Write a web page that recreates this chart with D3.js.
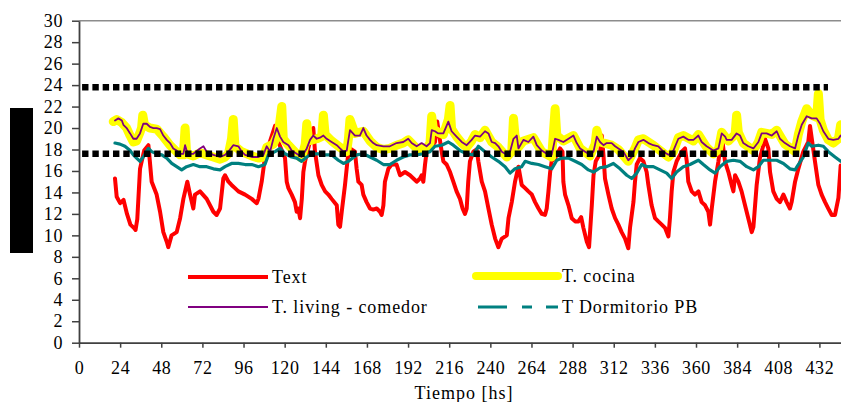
<!DOCTYPE html>
<html>
<head>
<meta charset="utf-8">
<script src="https://cdn.jsdelivr.net/npm/d3@7"></script>
<style>
  body { margin: 0; background: #fff; }
  svg { display: block; }
  text { font-family: 'Liberation Serif', 'Times New Roman', Times, serif; }
</style>
</head>
<body>
<svg id="chart"></svg>
<script>
// Datos (hora, temperatura)

const xTicks = [0, 24, 48, 72, 96, 120, 144, 168, 192, 216, 240, 264, 288, 312, 336, 360, 384, 408, 432];
const yTicks = [0, 2, 4, 6, 8, 10, 12, 14, 16, 18, 20, 22, 24, 26, 28, 30];

// Text (exterior)
const textHoras = [21, 22, 24, 26, 28, 30, 32, 33, 34, 35.6, 38, 40.5, 42.4, 45.3, 47.3, 49.2, 51.2, 52.1, 54, 57, 59, 60.9, 63.2, 64.8, 66.7, 67.7, 70.6, 74.5, 78.4, 80.3, 82.3, 84.2,
  85.2, 87.2, 89, 91, 93, 96.9, 100.8, 103.7, 104.7, 106.6, 108.2, 109.5, 114.4, 116.3, 120.2, 121.2, 122.2, 124.1, 126, 127, 128, 129, 130, 130.9, 131.9, 136.7, 137.7, 139.7,
  141.6, 143.6, 145.5, 147.4, 150.4, 151.3, 152.3, 153.3, 155.2, 156.8, 158.1, 161, 162, 163, 164.9, 165.9, 167.8, 169.8, 171.7, 173.7, 175.6, 176.6, 177.6, 178.5, 180.5,
  182.4, 185.3, 187.3, 190.2, 193.1, 195.1, 197, 199, 199.9, 200.9, 201.9, 202.8, 204.8, 207.7, 209, 210.2, 211.6, 212.6, 214.5, 216.5, 218.4, 220.3, 222.3, 223.8, 225.2,
  226.2, 227.1, 228.1, 230.1, 232, 233, 235, 236.9, 238.9, 240.8, 242.8, 244.7, 246.7, 249.6, 250.6, 252.5, 254.4, 256.4, 258.3, 260.3, 262.2, 264.2, 266.1, 268.1, 270,
  271.9, 272.9, 273.9, 274.9, 275.8, 277.8, 280.7, 282.1, 282.6, 283.6, 285.6, 287.5, 289.5, 291.4, 293, 294.3, 296.3, 297.6, 299.2, 300.2, 301.5, 304, 305, 306, 306.9,
  308.9, 310.8, 312.8, 314.7, 316.6, 318.6, 320.5, 321.5, 323.5, 324.4, 325.4, 327.3, 329.3, 331.2, 332.2, 334.1, 336.1, 338, 340, 341.9, 343.9, 344.8, 345.8, 346.8,
  348.7, 351.7, 353.6, 354.6, 355.5, 357.5, 359.4, 361.4, 363.3, 365.3, 367.2, 368.2, 369.2, 371.1, 373.1, 375, 376.9, 378.9, 380.8, 381.8, 382.8, 384.7, 386.6, 388.6,
  390.5, 392.5, 393.5, 395.4, 397.3, 400.3, 402.2, 403.2, 405.1, 407.1, 409, 411, 412.9, 414.8, 415.8, 417.8, 419.7, 422.6, 425.5, 426.5, 429.4, 431.4, 433.3, 435.3,
  437.2, 439.2, 441.1, 443.1, 444.4];
const textTemp = [15.3, 13.6, 13.0, 13.3, 12.0, 11.0, 10.7, 10.5, 11.5, 16.2, 17.9, 18.4, 15.0, 13.8, 12.2, 10.3, 9.4, 8.9, 10.0, 10.3, 11.6, 13.4, 15.0, 13.8, 12.5, 13.8, 14.1, 13.4, 12.2, 11.9, 12.5, 15.3,
  15.6, 15.0, 14.7, 14.4, 14.1, 13.8, 13.4, 13.0, 13.4, 15.0, 16.9, 17.8, 20.2, 18.7, 17.2, 15.0, 14.4, 13.8, 13.1, 12.2, 12.5, 11.6, 13.4, 15.9, 16.9, 20.0, 17.8, 15.6,
  14.7, 14.1, 13.8, 13.4, 12.8, 11.0, 10.8, 12.2, 14.7, 17.2, 18.1, 17.8, 16.2, 15.0, 14.7, 13.8, 13.1, 12.5, 12.4, 12.5, 12.2, 11.9, 12.8, 15.0, 16.2,
  16.6, 16.6, 15.6, 15.9, 15.6, 15.3, 15.0, 15.3, 15.6, 15.0, 16.6, 17.8, 18.1, 18.7, 20.6, 19.3, 17.8, 16.9, 16.6, 15.9, 15.0, 14.1, 13.4, 12.5, 12.0,
  12.5, 15.0, 16.9, 17.8, 18.0, 16.9, 15.0, 14.1, 12.5, 11.0, 9.7, 8.9, 9.7, 10.0, 11.6, 13.1, 15.0, 16.4, 14.7, 14.4, 14.1, 13.8, 13.1, 12.5, 12.0,
  11.9, 12.5, 14.1, 15.9, 16.9, 17.2, 18.1, 17.8, 15.0, 13.8, 12.8, 11.6, 11.3, 11.3, 11.7, 10.7, 9.4, 8.9, 12.8, 15.6, 16.9, 17.6, 19.3, 17.5, 15.3,
  13.8, 12.5, 11.6, 11.0, 10.3, 9.7, 8.8, 10.7, 13.1, 15.0, 16.6, 17.2, 16.9, 15.9, 14.7, 12.8, 11.6, 11.3, 11.0, 10.7, 9.9, 11.6, 14.1, 15.9,
  16.9, 17.8, 18.1, 16.9, 15.0, 14.1, 13.8, 14.1, 13.1, 12.8, 12.2, 11.0, 12.5, 15.0, 16.9, 19.3, 16.9, 15.9, 14.7, 14.1, 15.6, 15.0, 14.1, 12.8,
  11.6, 10.3, 10.8, 14.7, 17.2, 19.0, 18.1, 15.9, 14.1, 13.4, 13.1, 13.8, 13.1, 12.5, 13.1, 15.0, 16.2, 17.8, 18.7, 20.2, 16.9, 14.7, 13.8, 13.1,
  12.5, 11.9, 11.9, 13.5, 16.5];

// T. cocina
const cocinaHoras = [20, 22, 25, 27.8, 29.8, 31.7, 33.6, 35.6, 36.5, 37.2, 38.2, 41.4, 45.3, 49.2, 53.1, 57, 59, 60.9, 61.9, 62.8, 66.7, 70.6, 74.5, 78.4, 82.3, 85.2, 87.2,
  89, 90, 91, 94.9, 100.8, 104.7, 107.6, 109.5, 113.4, 116.3, 118.3, 119.2, 122.2, 127, 129.9, 132, 132.9, 134, 138.7, 141.6, 142.6, 143.6, 147.4, 152.3, 156.2, 157.2,
  158.1, 161, 165.9, 169.8, 173.7, 177.6, 181.4, 185.3, 189.2, 192.1, 197, 202.8, 204.8, 205.8, 206.8, 209.6, 212.6, 215.5, 216.5, 217.4, 220.3, 223.3, 226.2, 229.1,
  231.1, 234, 236.9, 240.8, 244.7, 249.6, 252.5, 253.5, 254.4, 256.4, 259.3, 265.1, 270, 275.8, 277.8, 278.8, 282.6, 288.5, 292.4, 298.2, 301.1, 302.1, 304, 310.8,
  314.7, 320.5, 324.4, 326.4, 329.3, 335.1, 343.9, 346.8, 349.7, 352.6, 358.5, 361.4, 366.2, 370.1, 373.1, 375, 378.9, 382.8, 383.7, 384.7, 387.6, 393.5, 396.4,
  398.3, 404.2, 407.1, 411.9, 417.8, 419.7, 421.7, 424.6, 427.5, 430.4, 431.4, 432.4, 434.3, 437.2, 440.1, 443.1, 444.4];
const cocinaTemp = [20.6, 20.8, 20.5, 20.0, 19.3, 18.7, 18.8, 19.6, 20.0, 21.2, 20.3, 20.0, 19.9, 19.2, 18.4, 17.8, 17.5, 17.5, 20.0, 17.6, 17.4, 17.7, 17.5, 17.3, 17.1, 17.3, 17.6,
  19.0, 20.8, 18.3, 17.8, 17.4, 17.2, 17.3, 18.2, 18.5, 19.5, 22.0, 19.0, 18.4, 17.6, 17.2, 18.5, 20.4, 18.8, 19.0, 19.2, 21.2, 19.4, 18.8, 18.2, 17.8, 19.0,
  20.8, 19.5, 19.7, 18.8, 18.2, 18.0, 18.1, 18.4, 18.6, 18.9, 18.1, 18.1, 18.6, 21.1, 19.9, 19.6, 19.4, 20.8, 22.1, 19.9, 19.2, 18.6, 18.2, 18.8,
  19.4, 19.1, 19.8, 18.7, 18.2, 17.3, 17.8, 20.9, 19.3, 18.2, 18.8, 19.1, 17.8, 17.3, 21.8, 19.3, 18.8, 19.3, 18.1, 17.4, 18.5, 19.8, 18.7, 18.4,
  18.0, 16.9, 18.1, 18.9, 19.0, 18.4, 17.3, 17.8, 19.1, 19.3, 18.8, 19.4, 18.2, 17.6, 18.0, 19.6, 18.8, 19.4, 21.2, 19.6, 18.6, 17.9, 18.7,
  19.6, 19.4, 19.8, 18.5, 17.8, 19.4, 20.6, 21.8, 21.2, 21.0, 23.2, 20.8, 19.8, 18.9, 18.6, 19.0, 20.3];

// T. living - comedor
const livingHoras = [21, 23, 25, 25.9, 27.8, 29.8, 31.7, 33.6, 35.6, 37.5, 39.5, 41.4, 43.4, 45.3, 47.3, 49.2, 51.2, 53.1, 55, 57, 59, 60.9, 61.9, 62.8, 64.8, 66.7, 70.6, 72.6,
  74.5, 78.4, 82.3, 85.2, 87.2, 90, 93, 94.9, 96.9, 100.8, 104.7, 107.6, 109.5, 111.5, 113.4, 115.4, 117.3, 119.2, 122.2, 124.1, 127, 129.9, 132.9, 134.8, 136.7,
  138.7, 140.6, 142.6, 144.5, 147.4, 150.4, 152.3, 154.3, 156.2, 158.1, 161, 163.9, 165.9, 167.8, 169.8, 171.7, 173.7, 177.6, 181.4, 185.3, 189.2, 192.1, 194.1,
  197, 199.9, 202.8, 204.8, 205.8, 207.7, 209.6, 212.6, 215.5, 217.4, 220.3, 223.3, 226.2, 229.1, 231.1, 234, 236.9, 238.9, 240.8, 242.8, 244.7, 246.7, 249.6,
  251.5, 253.5, 255.4, 256.4, 259.3, 262.2, 265.1, 267.1, 270, 272.9, 275.8, 277.8, 279.7, 282.6, 285.6, 288.5, 290.4, 292.4, 295.3, 298.2, 300.2, 302.1, 304,
  306, 307.9, 310.8, 312.8, 314.7, 317.6, 320.5, 322.5, 324.4, 326.4, 329.3, 332.2, 335.1, 338, 341, 343.9, 346.8, 349.7, 352.6, 355.5, 358.5, 361.4, 363.3,
  366.2, 370.1, 373.1, 375, 377, 377.9, 380.8, 383.7, 385.7, 387.6, 390.5, 393.5, 396.4, 398.3, 401.2, 404.2, 407.1, 409, 411.9, 414.8, 417.8, 419.7, 421.7,
  424.6, 427.5, 430.4, 432.4, 434.3, 437.2, 440.1, 443.1, 444.4];
const livingTemp = [20.7, 20.9, 20.7, 20.3, 20.0, 19.5, 19.0, 19.0, 19.5, 20.4, 20.4, 20.1, 20.0, 20.0, 19.9, 19.3, 18.9, 18.6, 18.1, 17.9, 17.6, 17.6, 18.4, 17.9, 17.6, 17.6, 18.1, 18.3,
  17.8, 17.5, 17.3, 17.5, 17.8, 18.4, 18.3, 17.8, 17.5, 17.3, 17.3, 17.5, 18.3, 17.8, 19.0, 20.0, 19.2, 18.7, 18.4, 17.9, 17.6, 17.3, 18.1, 18.9, 19.3,
  19.0, 19.1, 19.3, 19.0, 18.7, 18.4, 18.1, 17.8, 17.9, 19.8, 19.3, 19.3, 20.0, 19.3, 18.9, 18.6, 18.4, 18.3, 18.3, 18.6, 18.7, 19.0, 18.6,
  18.3, 18.6, 18.3, 18.6, 19.8, 19.7, 19.5, 19.5, 20.6, 19.7, 19.2, 18.7, 18.4, 18.9, 19.3, 19.2, 19.7, 19.5, 18.7, 18.6, 18.3, 17.8, 17.5,
  17.8, 19.0, 19.3, 18.1, 18.9, 18.7, 19.2, 18.4, 17.9, 17.6, 17.5, 19.0, 18.9, 18.7, 19.0, 19.3, 18.6, 18.1, 17.8, 17.5, 17.8, 19.2, 18.7,
  18.4, 18.6, 18.6, 18.3, 18.1, 17.8, 17.0, 17.3, 18.1, 18.7, 18.9, 18.6, 18.4, 18.3, 17.8, 17.5, 17.9, 19.0, 19.2, 18.9, 18.9, 19.3, 18.7,
  18.3, 17.9, 18.1, 19.5, 19.2, 18.9, 18.9, 19.5, 19.3, 18.6, 18.3, 18.1, 18.7, 19.5, 19.5, 19.3, 19.7, 19.0, 18.6, 18.3, 18.1, 19.3, 20.3,
  21.1, 20.9, 20.9, 20.4, 19.7, 19.0, 18.9, 19.0, 19.3];

// T Dormitorio PB
const dormHoras = [21, 23.9, 26.8, 29.8, 31.7, 33.6, 35.6, 37.5, 40.5, 42.4, 45.3, 48.3, 51.2, 54.1, 57, 59.9, 62.8, 66.7, 70.6, 74.5, 78.4, 82.3, 85.2, 89, 93, 96.9, 100.8,
  104.7, 108.5, 110.5, 114.4, 117.3, 120.2, 124.1, 127, 129.9, 132.9, 135.8, 139.7, 143.6, 147.4, 151.3, 154.3, 157.2, 162, 165.9, 169.8, 173.7, 177.6, 181.4, 185.3,
  189.2, 193.1, 197, 200.9, 204.8, 207.7, 211.6, 215.5, 218.4, 222.3, 226.2, 230, 233, 236.9, 240.8, 244.7, 248.6, 251.5, 254.4, 258.3, 260.3, 264.2, 268.1, 271.9,
  275.8, 278.8, 281.7, 285.6, 289.5, 293.3, 297.2, 300.2, 304, 307.9, 311.8, 315.7, 319.6, 322.5, 325.4, 328.3, 331.2, 335.1, 339, 342.9, 345.8, 348.7, 352.6, 356.5,
  361.4, 364.3, 368.2, 371.1, 374, 377.9, 381.8, 385.7, 389.6, 393.5, 396.4, 399.3, 403.2, 407.1, 411, 414.8, 417.8, 419.7, 422.6, 425.5, 427.5, 431.4, 434.3,
  437.2, 441.1, 444.4];
const dormTemp = [18.6, 18.5, 18.3, 17.9, 17.5, 17.2, 16.9, 17.3, 18.1, 17.8, 17.6, 17.5, 17.2, 16.7, 16.4, 16.1, 16.4, 16.6, 16.4, 16.4, 16.2, 16.1, 16.4, 16.7, 16.7, 16.6, 16.6,
  16.4, 16.6, 17.5, 17.8, 18.1, 17.6, 17.3, 17.2, 16.9, 17.3, 17.6, 17.6, 17.5, 17.5, 17.0, 16.7, 16.9, 17.5, 17.6, 17.3, 17.0, 16.6, 16.6, 17.0,
  17.3, 17.5, 17.5, 17.6, 17.8, 18.3, 18.4, 18.7, 18.4, 17.9, 17.6, 17.5, 18.3, 17.8, 17.3, 16.9, 16.4, 15.8, 16.2, 16.4, 16.9, 16.7, 16.6, 16.4,
  16.2, 17.0, 17.2, 17.2, 16.9, 16.6, 16.1, 15.9, 16.3, 16.4, 16.7, 16.2, 15.6, 15.3, 15.8, 16.6, 16.4, 16.4, 16.1, 15.8, 15.3, 15.9, 16.4, 16.6,
  17.0, 16.6, 16.1, 15.8, 16.4, 16.9, 17.0, 16.9, 16.4, 16.1, 16.4, 17.0, 17.0, 17.0, 16.7, 16.2, 16.1, 16.6, 17.3, 18.6, 18.3, 18.4, 18.3,
  17.8, 17.3, 16.9];

// Limites de confort (lineas punteadas negras)
const limitesTemp = [23.8, 17.6];
const limitesHoras = [1.8, 437];

const series = [
  { nombre: 'Text', horas: textHoras, temp: textTemp, color: '#FF0000', ancho: 4 },
  { nombre: 'T. cocina', horas: cocinaHoras, temp: cocinaTemp, color: '#FFFF00', ancho: 9 },
  { nombre: 'T. living - comedor', horas: livingHoras, temp: livingTemp, color: '#800080', ancho: 1.8 },
  { nombre: 'T Dormitorio PB', horas: dormHoras, temp: dormTemp, color: '#008080', ancho: 3.2 }
];

const fuente = "'Liberation Serif', 'Times New Roman', Times, serif";

// Medidas
const [w, h] = [841, 402];
const izq = 79, der = 841, arriba = 20.7, abajo = 342.7;

const svg = d3.select('#chart').attr('width', w).attr('height', h);

// Escalas
const xScale = d3.scaleLinear().domain([0, 444.6]).range([izq, der]);
const yScale = d3.scaleLinear().domain([0, 30]).range([abajo, arriba]);

// Borde superior gris
svg.append('line')
  .attr('x1', izq).attr('x2', der)
  .attr('y1', arriba).attr('y2', arriba)
  .attr('stroke', '#8c8c8c').attr('stroke-width', 1.5);

// Series
const linea = d3.line()
  .x(d => xScale(d[0]))
  .y(d => yScale(d[1]))
  .curve(d3.curveLinear);

series.forEach(s => {
  svg.append('path')
    .datum(s.horas.map((hh, i) => [hh, s.temp[i]]))
    .attr('fill', 'none')
    .attr('stroke', s.color)
    .attr('stroke-width', s.ancho)
    .attr('stroke-linejoin', 'round')
    .attr('stroke-linecap', 'round')
    .attr('d', linea);
});

// Lineas punteadas de limites
limitesTemp.forEach(t => {
  svg.append('line')
    .attr('x1', xScale(limitesHoras[0])).attr('x2', xScale(limitesHoras[1]))
    .attr('y1', yScale(t)).attr('y2', yScale(t))
    .attr('stroke', '#000')
    .attr('stroke-width', 6.5)
    .attr('stroke-dasharray', '6.4,3.9');
});

// Ejes
const ejeX = d3.axisBottom(xScale)
  .tickValues(xTicks)
  .tickSize(5)
  .tickPadding(14)
  .tickSizeOuter(0);

const gX = svg.append('g')
  .attr('transform', 'translate(0,' + abajo + ')')
  .call(ejeX);

const ejeY = d3.axisLeft(yScale)
  .tickValues(yTicks)
  .tickSize(7)
  .tickPadding(9)
  .tickSizeOuter(0);

const gY = svg.append('g')
  .attr('transform', 'translate(' + izq + ',0)')
  .call(ejeY);

[gX, gY].forEach(g => {
  g.attr('font-family', fuente).attr('font-size', 18);
  g.select('.domain').attr('stroke', '#404040').attr('stroke-width', 1.8);
  g.selectAll('.tick line').attr('stroke', '#404040').attr('stroke-width', 1.5);
  g.selectAll('.tick text').attr('fill', '#000').style('letter-spacing', '0.6px');
});

// Titulo eje X
svg.append('text')
  .attr('x', 464).attr('y', 399)
  .attr('text-anchor', 'middle')
  .attr('font-family', fuente)
  .attr('font-size', 18)
  .style('letter-spacing', '1px')
  .text('Tiempo [hs]');

// Caja negra del eje Y
svg.append('rect')
  .attr('x', 10).attr('y', 108)
  .attr('width', 23).attr('height', 145)
  .attr('fill', '#000');

// Leyenda
const leyenda = [
  { s: series[0], x1: 188, x2: 268, y: 277, dash: null },
  { s: series[1], x1: 476, x2: 558, y: 276, dash: null },
  { s: series[2], x1: 188, x2: 268, y: 307, dash: null },
  { s: series[3], x1: 478, x2: 558, y: 307, dash: '29,15,10,14,12' }
];

leyenda.forEach(l => {
  svg.append('line')
    .attr('x1', l.x1).attr('x2', l.x2)
    .attr('y1', l.y).attr('y2', l.y)
    .attr('stroke', l.s.color)
    .attr('stroke-width', l.s.nombre === 'T. cocina' ? 8 : l.s.ancho)
    .attr('stroke-linecap', l.s.nombre === 'T. cocina' ? 'round' : 'butt')
    .attr('stroke-dasharray', l.dash);

  svg.append('text')
    .attr('x', l.x2 + 4)
    .attr('y', l.y + 6)
    .attr('font-family', fuente)
    .attr('font-size', 18)
    .style('letter-spacing', '0.9px')
    .text(l.s.nombre);
});
</script>
</body>
</html>
